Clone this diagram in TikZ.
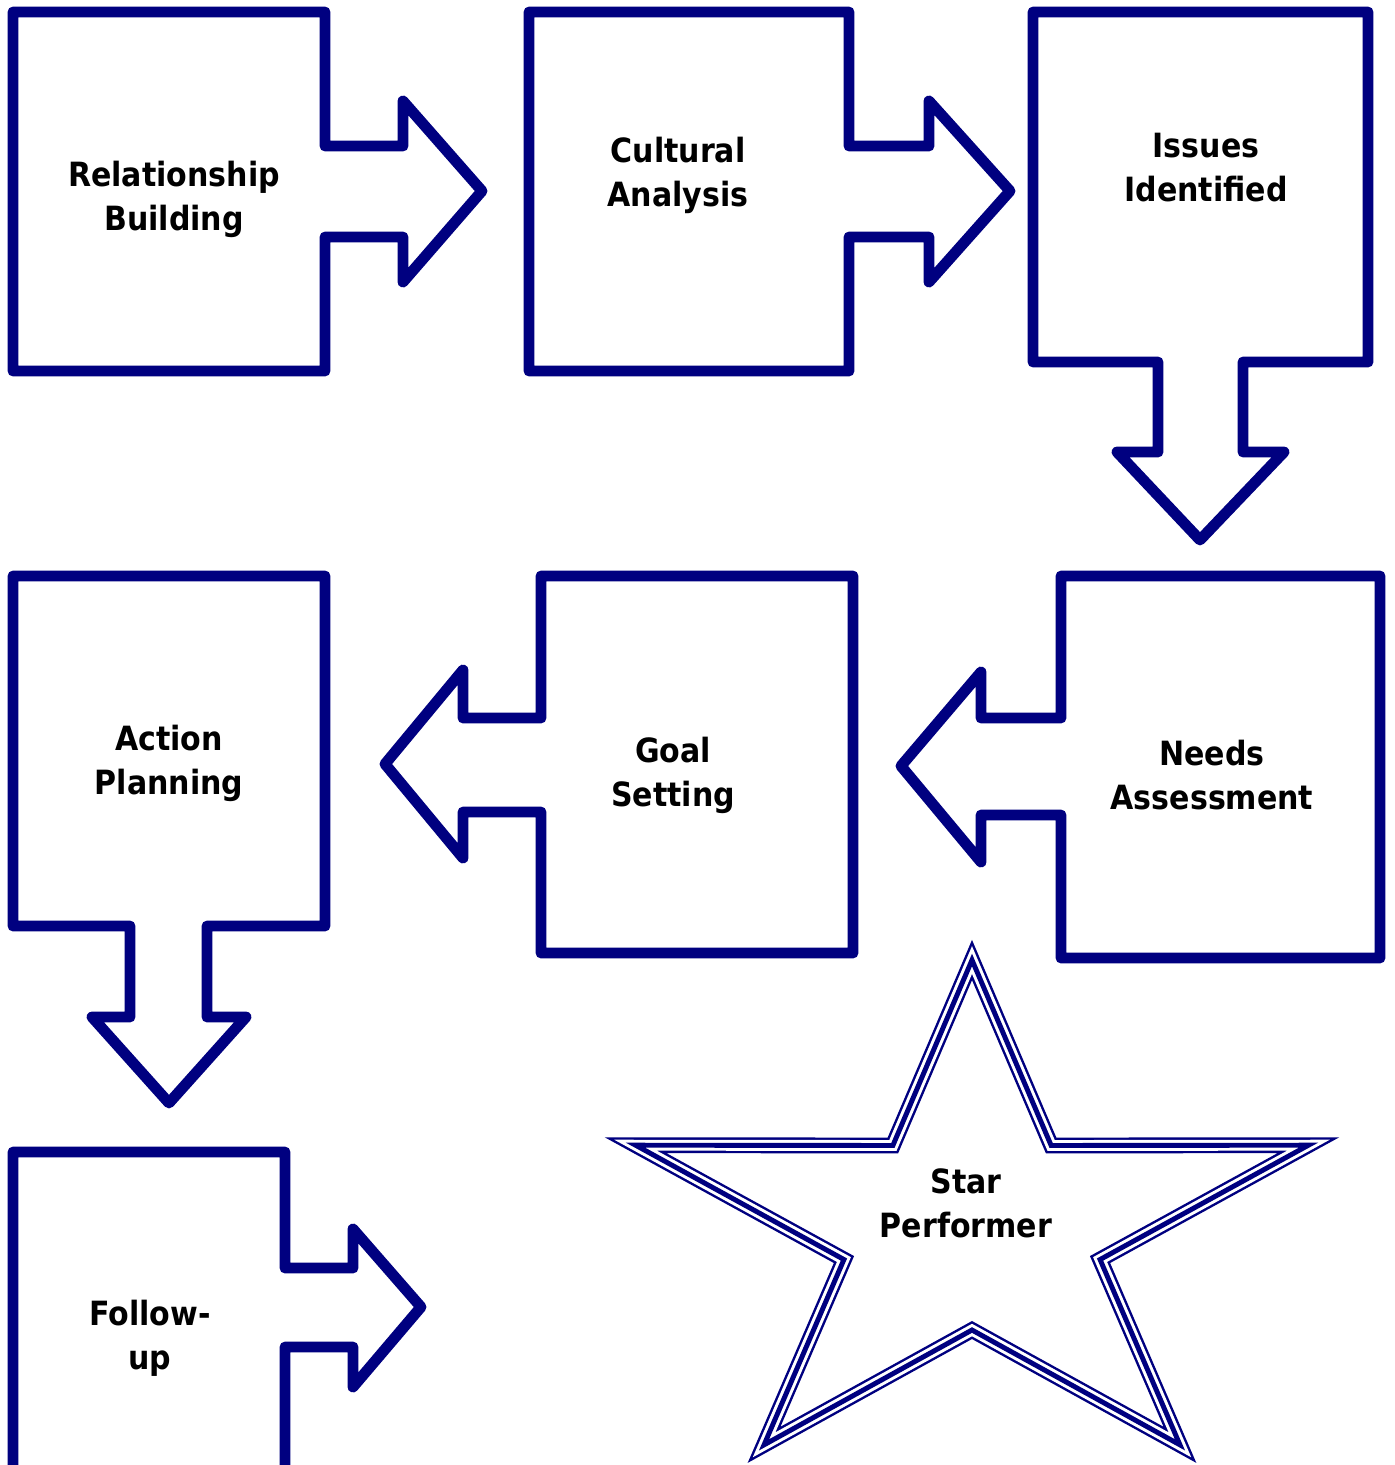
\documentclass[tikz,border=0pt]{standalone}
\usepackage{fontspec}
\setmainfont{DejaVu Sans Condensed}
\usetikzlibrary{positioning}
\definecolor{navyblue}{RGB}{0,0,128}

\begin{document}
\begin{tikzpicture}[
    x=0.02cm, y=-0.02cm,
    callout/.style={draw=navyblue, line width=6.2pt, line join=round},
    starshape/.style={draw=navyblue, line width=9pt,
        postaction={draw=white, line width=6.2pt},
        postaction={draw=navyblue, line width=2.8pt}},
    label/.style={font=\fontsize{19}{25}\selectfont\bfseries, align=center, text=black},
]
\useasboundingbox (0,0) rectangle (1395,1465);

% Relationship Building
\draw[callout] (13,12) -- (325,12) -- (325,146) -- (403,146) -- (403,101) -- (482,191)
    -- (403,282) -- (403,237) -- (325,237) -- (325,371) -- (13,371) -- cycle;
\node[label] (rel) at (174,199) {Relationship\\Building};

% Cultural Analysis
\draw[callout] (529,12) -- (849,12) -- (849,146) -- (929,146) -- (929,101) -- (1010,191)
    -- (929,282) -- (929,237) -- (849,237) -- (849,371) -- (529,371) -- cycle;
\node[label] (cult) at (678,175) {Cultural\\Analysis};

% Issues Identified
\draw[callout] (1033,12) -- (1368,12) -- (1368,362) -- (1243,362) -- (1243,452) -- (1284,452)
    -- (1200,540) -- (1117,452) -- (1158,452) -- (1158,362) -- (1033,362) -- cycle;
\node[label] (issues) at (1206,168) {Issues\\Identified};

% Needs Assessment
\draw[callout] (1061,576) -- (1380,576) -- (1380,958) -- (1061,958) -- (1061,815) -- (981,815)
    -- (981,862) -- (901,766) -- (981,672) -- (981,718) -- (1061,718) -- cycle;
\node[label] (needs) at (1212,775) {Needs\\Assessment};

% Goal Setting
\draw[callout] (541,576) -- (853,576) -- (853,953) -- (541,953) -- (541,812) -- (463,812)
    -- (463,858) -- (385,764) -- (463,670) -- (463,718) -- (541,718) -- cycle;
\node[label] (goal) at (673,775) {Goal\\Setting};

% Action Planning
\draw[callout] (13,576) -- (325,576) -- (325,926) -- (207,926) -- (207,1017) -- (246,1017)
    -- (169,1103) -- (92,1017) -- (130,1017) -- (130,926) -- (13,926) -- cycle;
\node[label] (action) at (169,763) {Action\\Planning};

% Follow-up (runs past the bottom edge)
\draw[callout] (13,1480) -- (13,1152) -- (285,1152) -- (285,1268) -- (353,1268) -- (353,1229)
    -- (421,1307) -- (353,1387) -- (353,1347) -- (285,1347) -- (285,1480);
\node[label] (follow) at (150,1338) {Follow-\\up};

% Star
\begin{scope}[shift={(972,1228)}, xscale=1.32]
\draw[starshape] (270:268) -- (306:102) -- (342:268) -- (18:102) -- (54:268) -- (90:102)
    -- (126:268) -- (162:102) -- (198:268) -- (234:102) -- cycle;
\end{scope}
\node[label] (star) at (966,1203) {Star\\Performer};
\end{tikzpicture}
\end{document}
